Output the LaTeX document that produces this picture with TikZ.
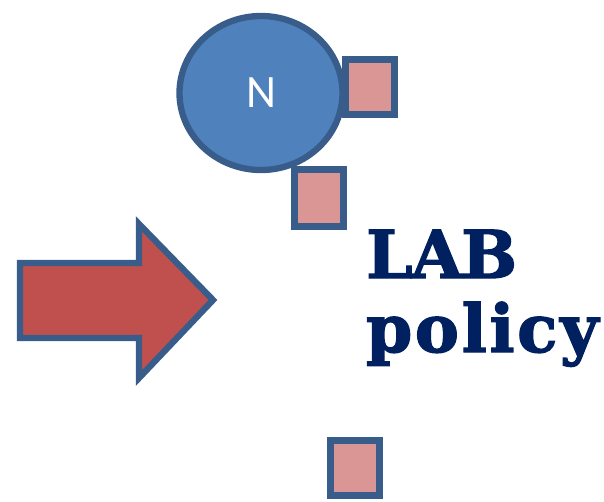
\documentclass[tikz,border=0pt]{standalone}
\usepackage{fontspec}
\usepackage{tikz}
\usetikzlibrary{shapes.geometric,positioning}
\newfontfamily\labelfont{Carlito}
\newfontfamily\policyfont[FakeBold=2]{DejaVu Serif}
\definecolor{nodeblue}{HTML}{4F81BD}
\definecolor{edgeblue}{HTML}{385D8A}
\definecolor{portpink}{HTML}{D99694}
\definecolor{arrowred}{HTML}{C0504D}
\definecolor{navy}{HTML}{002060}
\tikzset{
    agent/.style = {draw=edgeblue, fill=nodeblue, ellipse, line width=9pt,
        minimum width=163*0.05cm, minimum height=154*0.05cm, inner sep=0pt,
        text=white, font=\labelfont\fontsize{66}{70}\selectfont},
    port/.style = {draw=edgeblue, fill=portpink, rectangle, line width=9pt,
        minimum width=49*0.05cm, minimum height=55*0.05cm, inner sep=0pt},
    bigarrow/.style = {draw=edgeblue, fill=arrowred, line width=9pt, line join=miter},
    title/.style = {text=navy, anchor=base west, inner sep=0pt,
        font=\policyfont\bfseries\fontsize{94}{96}\selectfont}
}
\begin{document}
\begin{tikzpicture}[x=0.05cm, y=-0.05cm]
    \useasboundingbox (0,0) rectangle (604,501);
    \node [agent] (n) at (261,93) {N};
    \node [port] (port1) at (370,87) {};
    \node [port, minimum height=57*0.05cm] (port2) at (319,198) {};
    \node [port] (port3) at (355,468) {};
    % big arrow
    \draw [bigarrow] (20,263) -- (139,263) -- (139,224) -- (213,300)
        -- (139,378) -- (139,338) -- (20,338) -- cycle;
    \node [title] (lab) at (366,278) {\addfontfeatures{LetterSpace=-2}LAB};
    \node [title] (policy) at (366,352) {\addfontfeatures{LetterSpace=4}policy};
\end{tikzpicture}
\end{document}
